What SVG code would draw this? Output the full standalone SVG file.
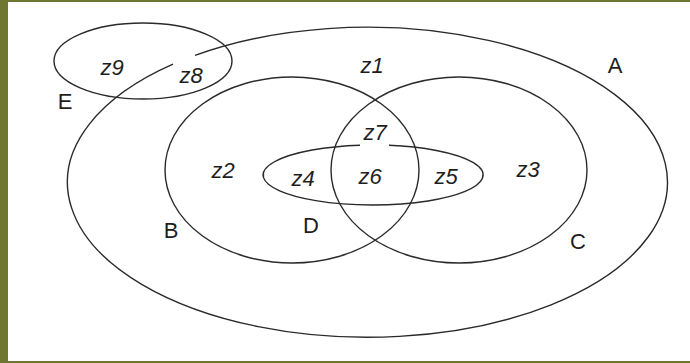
<svg xmlns="http://www.w3.org/2000/svg" width="690" height="363" viewBox="0 0 690 363">
  <style>
    .set { fill: none; stroke: #2a2a2a; stroke-width: 1.4; }
    .lbl { font-family: "Liberation Sans", Arial, sans-serif; font-size: 22px; fill: #1e1e1e; text-anchor: middle; }
    .zone { font-style: italic; }
  </style>
  <rect x="0" y="0" width="690" height="363" fill="#ffffff"/>
  <g id="frame" fill="#6e7632">
    <rect x="0" y="0" width="690" height="2"/>
    <rect x="0" y="0" width="8" height="363"/>
    <rect x="0" y="361" width="690" height="2"/>
  </g>
  <g id="set-A">
    <path class="set" d="M 195 55.4 A 300 155 0 1 1 173 64.2"/>
    <text class="lbl" x="615" y="73">A</text>
  </g>
  <g id="set-E">
    <ellipse class="set" cx="143" cy="61" rx="89" ry="38"/>
    <text class="lbl" x="65" y="109">E</text>
  </g>
  <g id="set-B">
    <ellipse class="set" cx="292" cy="170" rx="127" ry="93"/>
    <text class="lbl" x="171" y="238">B</text>
  </g>
  <g id="set-C">
    <ellipse class="set" cx="459" cy="170" rx="128" ry="93"/>
    <text class="lbl" x="578" y="249">C</text>
  </g>
  <g id="set-D">
    <path class="set" d="M 389 145.3 A 110 30 0 1 1 360 145.2"/>
    <text class="lbl" x="311" y="233">D</text>
  </g>
  <g id="zones">
    <text class="lbl zone" x="372" y="73">z1</text>
    <text class="lbl zone" x="223" y="178">z2</text>
    <text class="lbl zone" x="528" y="177">z3</text>
    <text class="lbl zone" x="303" y="186">z4</text>
    <text class="lbl zone" x="446" y="184">z5</text>
    <text class="lbl zone" x="370" y="184">z6</text>
    <text class="lbl zone" x="375" y="140">z7</text>
    <text class="lbl zone" x="191" y="83">z8</text>
    <text class="lbl zone" x="112" y="75">z9</text>
  </g>
</svg>
